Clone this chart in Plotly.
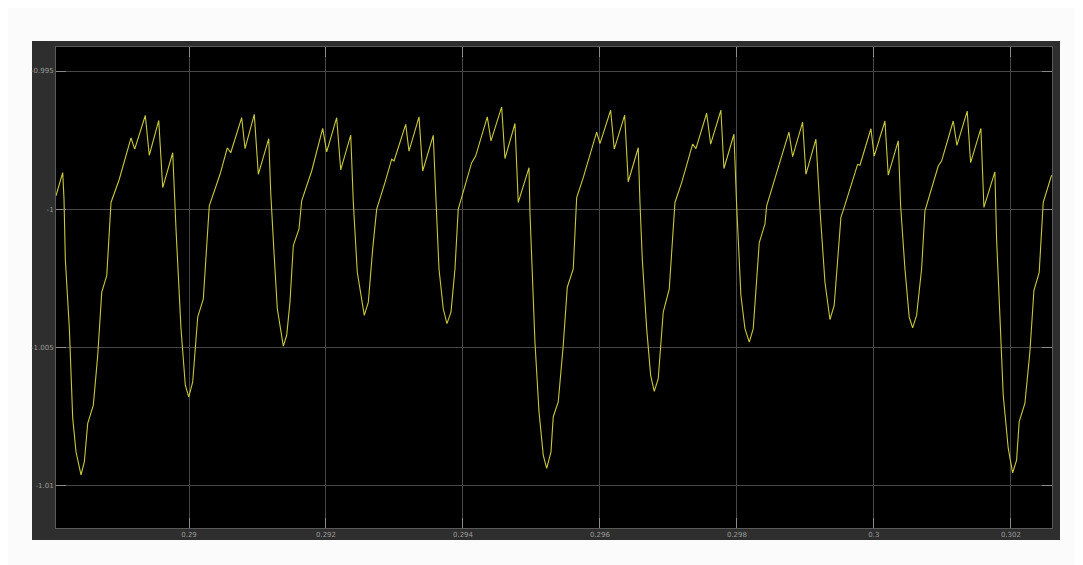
import plotly.graph_objects as go

# time (s) and signal values
time_s = [
    0.288058, 0.288156, 0.288175, 0.288194, 0.288253, 0.288302, 0.288350, 0.288423,
    0.288472, 0.288521, 0.288603, 0.288667, 0.288726, 0.288799, 0.288861, 0.288982,
    0.289153, 0.289207, 0.289362, 0.289420, 0.289558, 0.289616, 0.289762, 0.289785,
    0.289810, 0.289883, 0.289946, 0.289996, 0.290054, 0.290127, 0.290209, 0.290296,
    0.290453, 0.290559, 0.290609, 0.290769, 0.290818, 0.290953, 0.291012, 0.291164,
    0.291193, 0.291241, 0.291289, 0.291377, 0.291426, 0.291474, 0.291523, 0.291606,
    0.291645, 0.291791, 0.291952, 0.292010, 0.292156, 0.292215, 0.292361, 0.292399,
    0.292457, 0.292559, 0.292618, 0.292682, 0.292740,
    0.292861, 0.292959, 0.292993, 0.293164, 0.293212, 0.293358, 0.293412, 0.293566,
    0.293601, 0.293650, 0.293712, 0.293766, 0.293825, 0.293883, 0.293931, 0.294127,
    0.294185, 0.294355, 0.294409, 0.294565, 0.294613, 0.294759, 0.294807, 0.294964,
    0.294978, 0.295012, 0.295051, 0.295110, 0.295172, 0.295222, 0.295285,
    0.295318, 0.295391, 0.295464, 0.295523, 0.295610, 0.295660, 0.295756, 0.295952,
    0.296000, 0.296156, 0.296209, 0.296361, 0.296413, 0.296559, 0.296584, 0.296618,
    0.296682, 0.296740, 0.296793, 0.296851, 0.296924, 0.297012, 0.297095, 0.297193,
    0.297353, 0.297401, 0.297558, 0.297616,
    0.297766, 0.297810, 0.297956, 0.297996, 0.298058, 0.298117, 0.298180, 0.298238,
    0.298326, 0.298409, 0.298434, 0.298555, 0.298759, 0.298813, 0.298959, 0.299007,
    0.299153, 0.299212, 0.299285, 0.299358, 0.299420, 0.299518, 0.299566, 0.299762,
    0.299796, 0.299956, 0.300004,
    0.300161, 0.300209, 0.300355, 0.300390, 0.300453, 0.300515, 0.300565, 0.300623,
    0.300696, 0.300745, 0.300939, 0.300988, 0.301158, 0.301212, 0.301362, 0.301412,
    0.301562, 0.301606, 0.301766, 0.301791, 0.301839, 0.301888, 0.301961, 0.302025,
    0.302083, 0.302121, 0.302204, 0.302277, 0.302336, 0.302413, 0.302472, 0.302594,
]
signal = [
    -0.99952, -0.99868, -0.99964, -1.00181, -1.00433, -1.00757, -1.00879, -1.00963,
    -1.00915, -1.00776, -1.00710, -1.00530, -1.00301, -1.00241, -0.99976, -0.99892,
    -0.99742, -0.99783, -0.99661, -0.99805, -0.99679, -0.99922, -0.99796, -0.99952,
    -1.00072, -1.00433, -1.00638, -1.00680, -1.00626, -1.00391, -1.00325, -0.99988,
    -0.99874, -0.99778, -0.99796, -0.99669, -0.99781, -0.99657, -0.99874, -0.99745,
    -0.99940, -1.00157, -1.00361, -1.00496, -1.00457, -1.00337, -1.00132, -1.00072,
    -0.99970, -0.99862, -0.99708, -0.99793, -0.99669, -0.99858, -0.99732, -0.99976,
    -1.00229, -1.00385, -1.00337, -1.00144, -1.00000,
    -0.99904, -0.99819, -0.99826, -0.99693, -0.99790, -0.99666, -0.99862, -0.99733,
    -0.99940, -1.00217, -1.00361, -1.00415, -1.00373, -1.00217, -1.00000, -0.99832,
    -0.99808, -0.99666, -0.99753, -0.99630, -0.99817, -0.99690, -0.99976, -0.99850,
    -1.00012, -1.00241, -1.00482, -1.00734, -1.00891, -1.00939, -1.00879,
    -1.00752, -1.00698, -1.00493, -1.00283, -1.00217, -0.99958, -0.99886, -0.99721,
    -0.99763, -0.99642, -0.99783, -0.99660, -0.99901, -0.99778, -0.99976, -1.00181,
    -1.00433, -1.00602, -1.00660, -1.00614, -1.00373, -1.00289, -0.99976, -0.99904,
    -0.99765, -0.99781, -0.99653, -0.99765,
    -0.99642, -0.99853, -0.99729, -0.99988, -1.00313, -1.00433, -1.00482, -1.00433,
    -1.00121, -1.00054, -0.99988, -0.99892, -0.99721, -0.99810, -0.99685, -0.99874,
    -0.99747, -1.00000, -1.00265, -1.00400, -1.00349, -1.00030, -0.99994, -0.99838,
    -0.99841, -0.99709, -0.99808,
    -0.99681, -0.99877, -0.99753, -0.99988, -1.00217, -1.00391, -1.00430, -1.00385,
    -1.00217, -1.00006, -0.99844, -0.99826, -0.99681, -0.99769, -0.99645, -0.99832,
    -0.99708, -0.99994, -0.99865, -1.00108, -1.00385, -1.00674, -1.00866, -1.00955,
    -1.00909, -1.00770, -1.00704, -1.00518, -1.00295, -1.00229, -0.99976, -0.99877,
]

x_ticks = [0.290, 0.292, 0.294, 0.296, 0.298, 0.300, 0.302]
x_tick_labels = ["0.29", "0.292", "0.294", "0.296", "0.298", "0.3", "0.302"]
y_ticks = [-0.995, -1.0, -1.005, -1.01]
y_tick_labels = ["-0.995", "-1", "-1.005", "-1.01"]

fig = go.Figure()
fig.add_trace(go.Scatter(
    x=time_s, y=signal, mode="lines",
    line=dict(color="#c8c83c", width=1.1),
    showlegend=False, hoverinfo="skip",
))

axis_common = dict(
    showgrid=True, gridcolor="#474747", gridwidth=1,
    zeroline=False,
    showline=True, linecolor="#5a5a5a", linewidth=1, mirror="ticks",
    ticks="inside", ticklen=10, tickcolor="#8a8a8a", tickwidth=1,
    tickfont=dict(family="DejaVu Sans, Arial, sans-serif", size=7, color="#9a9a9a"),
)

fig.update_xaxes(range=[0.288058, 0.3026], tickvals=x_ticks, ticktext=x_tick_labels,
                 **axis_common)
fig.update_yaxes(range=[-1.01155, -0.99413], tickvals=y_ticks, ticktext=y_tick_labels,
                 **axis_common)

# page body has an 8px default margin; size the figure to fit inside it
fig.update_layout(
    width=1075, height=557,
    margin=dict(l=48, r=31, t=39, b=37, pad=0),
    paper_bgcolor="#fbfbfb",
    plot_bgcolor="#000000",
    shapes=[
        dict(type="rect", xref="paper", yref="paper",
             x0=-24 / 996, x1=1 + 8 / 996, y0=-12 / 481, y1=1 + 6 / 481,
             fillcolor="#2e2e2e", line=dict(width=0), layer="below"),
        dict(type="rect", xref="paper", yref="paper",
             x0=0, x1=1, y0=0, y1=1,
             fillcolor="#000000", line=dict(width=0), layer="below"),
    ],
)

fig.write_html("out.html")
